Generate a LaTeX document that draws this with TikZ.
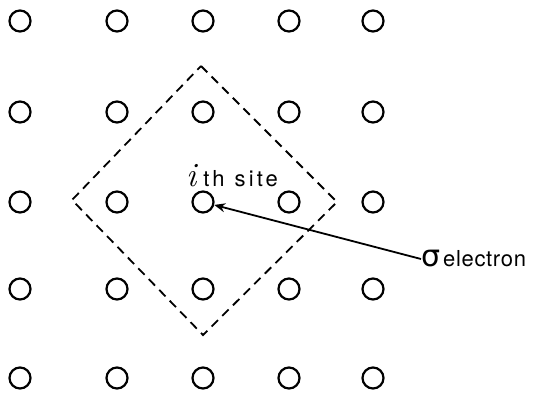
\documentclass[tikz,border=0pt]{standalone}
\usepackage{fontspec}
\setsansfont{TeX Gyre Heros}
\newfontfamily\symfont{DejaVu Sans}
\newfontfamily\spacedsans[LetterSpace=3]{TeX Gyre Heros}
\newfontfamily\widesans[LetterSpace=14]{TeX Gyre Heros}
\usetikzlibrary{arrows.meta}
\begin{document}
\begin{tikzpicture}[x=1pt,y=-1pt,
  site/.style={circle,draw,line width=2.2pt,minimum size=21pt,inner sep=0pt},
  cell/.style={draw,dash pattern=on 9pt off 6pt,line width=1.8pt},
  lbl/.style={font=\spacedsans\fontsize{22}{24}\selectfont,inner sep=0pt},
  conn/.style={draw,line width=1.8pt,-{Stealth[length=11pt,width=9pt,open]}}]
\useasboundingbox (0,0) rectangle (534,399);
\foreach \c/\x in {1/20,2/117,3/203,4/289,5/373}{
  \foreach \r/\y in {1/21,2/112,3/202,4/289,5/378}{
    \node[site] (s\c\r) at (\x,\y) {};
  }
}
\coordinate (dt) at (201,66);
\coordinate (dr) at (337,202);
\coordinate (db) at (203,335);
\coordinate (dl) at (72,200);
\draw[cell] (dt) -- (dr) -- (db) -- (dl) -- cycle;
\node[lbl,anchor=base west] (site) at (186,186) {{\rmfamily\itshape\fontsize{34}{34}\selectfont i}\hspace{7pt}{\widesans\fontsize{22}{24}\selectfont th}\hspace{10pt}{\widesans\fontsize{22}{24}\selectfont site}};
\node[lbl,anchor=west] (el) at (421,259) {{\symfont\fontsize{30}{30}\selectfont σ}\hspace{3pt}electron};
\draw[conn] (el.west) -- (s33);
\end{tikzpicture}
\end{document}
